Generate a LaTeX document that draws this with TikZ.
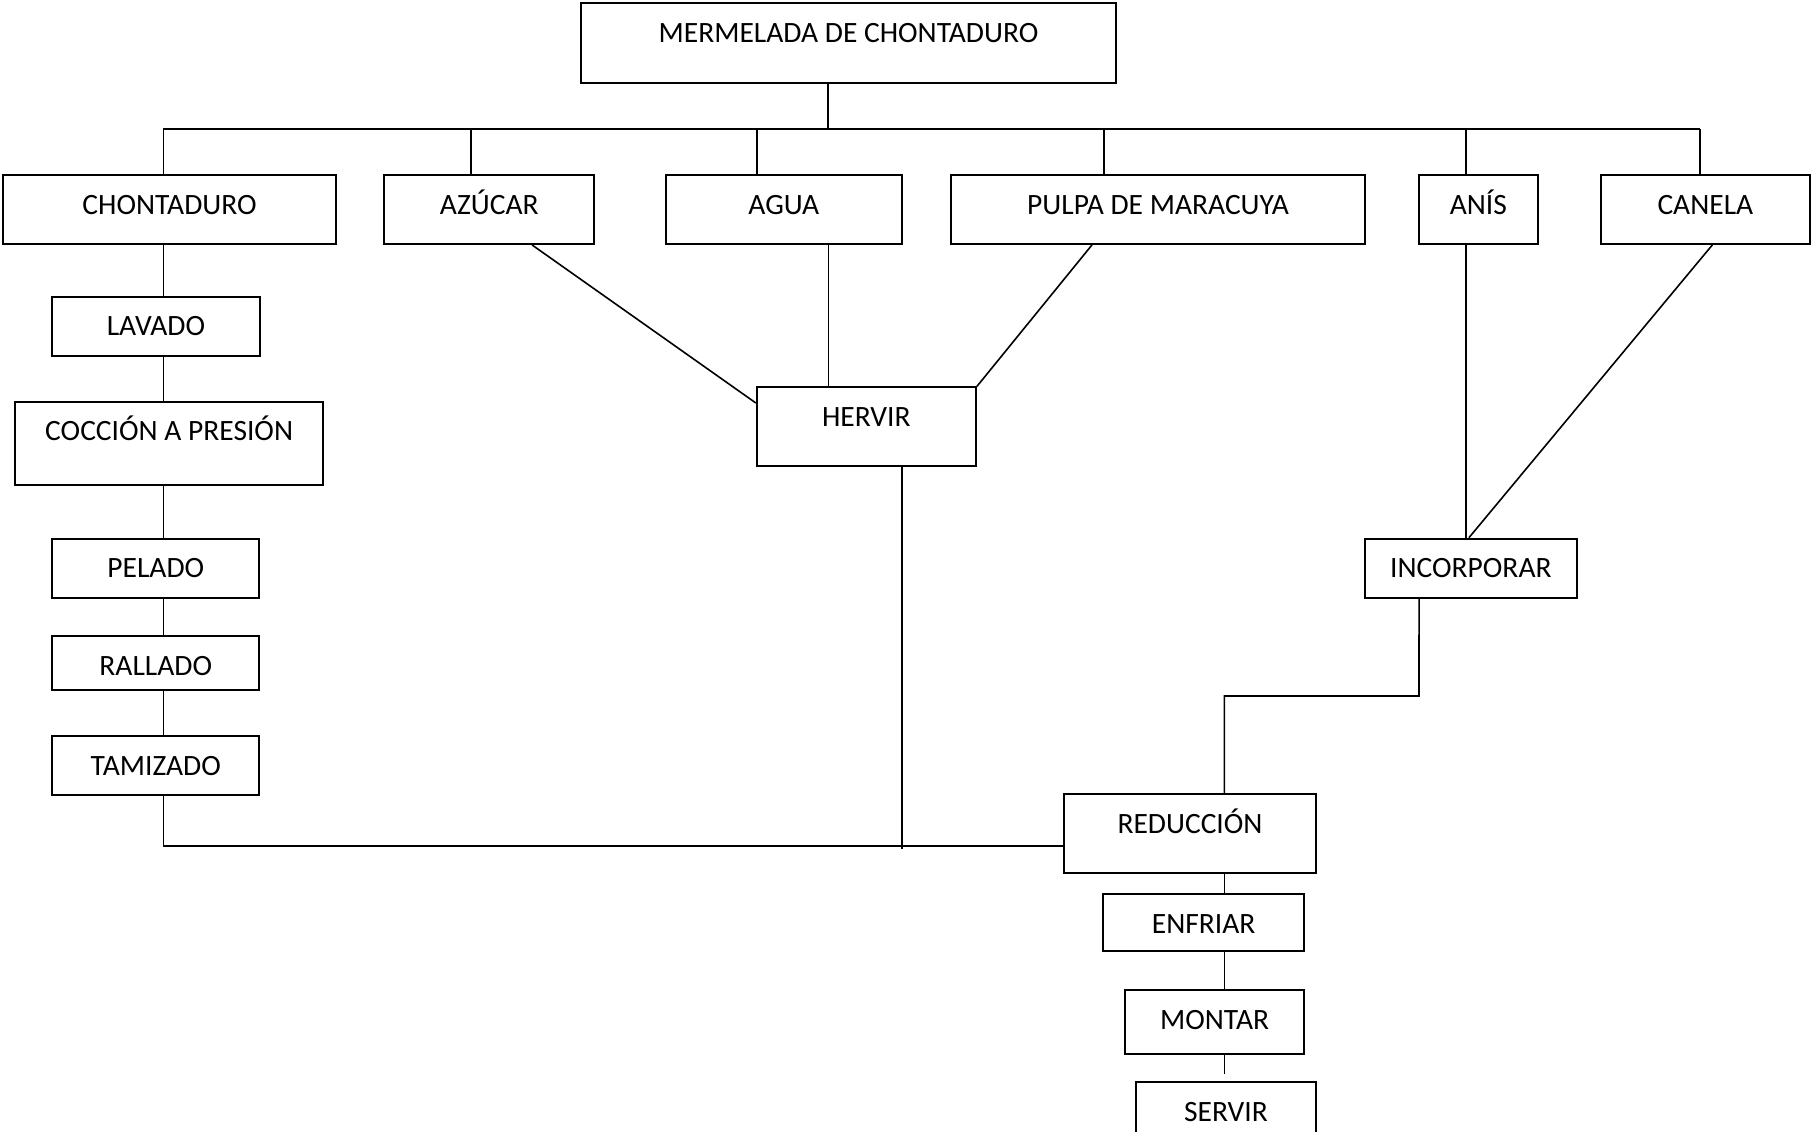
\documentclass[tikz,border=0pt]{standalone}
\usepackage{fontspec}
\setmainfont{Carlito}
\tikzset{
  boxst/.style={draw=black, line width=1.8pt, rectangle, inner sep=0pt, fill=white},
  lbl/.style={anchor=base, inner sep=0pt, font=\fontsize{29.5}{35}\selectfont},
  conn/.style={draw=black, line width=1.6pt}
}
\newcommand{\flbox}[6]{%
  \node[boxst, minimum width={#4-#2}, minimum height={#5-#3}] (#1) at ({(#2+#4)/2},{(#3+#5)/2}) {};
  \node[lbl] (#1-t) at ([yshift=-40pt]#1.north) {#6};
}
\begin{document}
\begin{tikzpicture}[x=1pt,y=-1pt]
\useasboundingbox (0,0) rectangle (1812,1132);
\fill[white] (0,0) rectangle (1812,1132);

\coordinate (trunk) at (828,0);
\coordinate (busL) at (163.3,129);
\coordinate (busR) at (1700,129);
\coordinate (dChon) at (163.3,129);
\coordinate (dAz) at (471,129);
\coordinate (dAgua) at (757,129);
\coordinate (dPul) at (1104,129);
\coordinate (dAnis) at (1466,129);
\coordinate (dCan) at (1700,129);
\coordinate (colL) at (163.3,0);
\coordinate (colR) at (1224.3,0);
\coordinate (ax) at (1466,0);
\coordinate (hx) at (902,0);
\coordinate (gx) at (828.3,0);
\coordinate (hEnd) at (902,849);
\coordinate (kneeR) at (1419,696);
\coordinate (kneeL) at (1224.3,696);
\coordinate (sEnd) at (1224.3,1074);
\coordinate (botL) at (163.3,845.7);

\flbox{mer}{581}{3}{1116}{83}{MERMELADA DE CHONTADURO}
\flbox{chon}{3}{175}{336}{244}{CHONTADURO}
\flbox{az}{384.3}{175}{594.3}{244}{AZÚCAR}
\flbox{agua}{665.7}{175}{902}{244}{AGUA}
\flbox{pul}{951}{175}{1365}{244}{PULPA DE MARACUYA}
\flbox{anis}{1419}{175}{1537.7}{244}{ANÍS}
\flbox{can}{1601}{175}{1809.7}{244}{CANELA}
\flbox{lav}{52.3}{296.7}{259.7}{356}{LAVADO}
\flbox{coc}{15}{401.7}{323.3}{485}{COCCIÓN A PRESIÓN}
\flbox{pel}{52.3}{538.7}{259.3}{597.7}{PELADO}
\flbox{ral}{52.3}{636.3}{259.3}{690.3}{RALLADO}
\flbox{tam}{52.3}{736}{259.3}{795}{TAMIZADO}
\flbox{her}{756.7}{387.3}{976}{466}{HERVIR}
\flbox{inc}{1364.7}{538.7}{1577}{597.7}{INCORPORAR}
\flbox{red}{1064}{794}{1316}{873}{REDUCCIÓN}
\flbox{enf}{1103.3}{894}{1304}{950.7}{ENFRIAR}
\flbox{mon}{1125.3}{990}{1304}{1054}{MONTAR}
\flbox{ser}{1136}{1082}{1316}{1145}{SERVIR}

% tree at top
\draw[conn] (trunk |- mer.south) -- (trunk |- busL);
\draw[conn] (busL) -- (busR);
\draw[conn] (dChon) -- (dChon |- chon.north);
\draw[conn] (dAz) -- (dAz |- az.north);
\draw[conn] (dAgua) -- (dAgua |- agua.north);
\draw[conn] (dPul) -- (dPul |- pul.north);
\draw[conn] (dAnis) -- (dAnis |- anis.north);
\draw[conn] (dCan) -- (dCan |- can.north);

% left column
\draw[conn] (colL |- chon.south) -- (colL |- lav.north);
\draw[conn] (colL |- lav.south) -- (colL |- coc.north);
\draw[conn] (colL |- coc.south) -- (colL |- pel.north);
\draw[conn] (colL |- pel.south) -- (colL |- ral.north);
\draw[conn] (colL |- ral.south) -- (colL |- tam.north);
\draw[conn] (colL |- tam.south) -- (botL) -- (botL -| red.west);

% into HERVIR
\draw[conn] ([xshift=42.7pt]az.south) -- ([yshift=23.7pt]her.west);
\draw[conn] (gx |- agua.south) -- ([yshift=-2pt]gx |- her.north);
\draw[conn] ([xshift=-66pt]pul.south) -- (her.north east);
\draw[conn] (hx |- her.south) -- (hEnd);

% into INCORPORAR
\draw[conn] (ax |- anis.south) -- (ax |- inc.north);
\draw[conn] ([xshift=7pt]can.south) -- ([xshift=-2pt]inc.north);
\draw[conn] ([xshift=-51.8pt]inc.south) -- (kneeR) -- (kneeL) -- (colR |- red.north);

% bottom column
\draw[conn] (colR |- red.south) -- (colR |- enf.north);
\draw[conn] (colR |- enf.south) -- (colR |- mon.north);
\draw[conn] (colR |- mon.south) -- (sEnd);
\end{tikzpicture}
\end{document}
